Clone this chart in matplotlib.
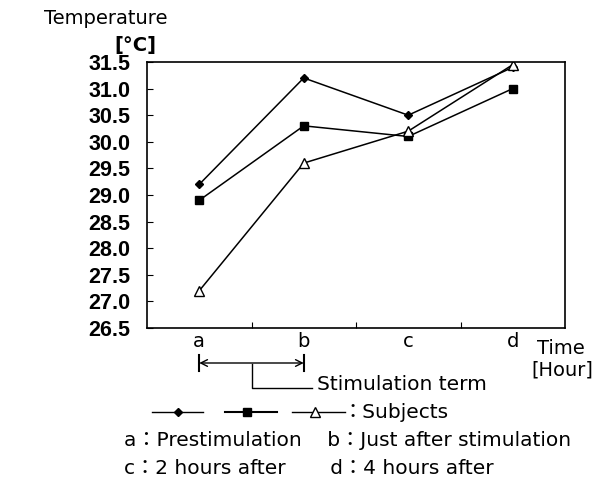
import matplotlib
matplotlib.use("Agg")
import matplotlib.pyplot as plt
from matplotlib.lines import Line2D

plt.rcParams['font.family'] = ['DejaVu Sans', 'Noto Sans CJK JP']
FAM = ['DejaVu Sans', 'Noto Sans CJK JP']

categories = ['a', 'b', 'c', 'd']
subject1 = [29.2, 31.2, 30.5, 31.4]
subject2 = [28.9, 30.3, 30.1, 31.0]
subject3 = [27.2, 29.6, 30.2, 31.45]
yticks = [26.5, 27.0, 27.5, 28.0, 28.5, 29.0, 29.5, 30.0, 30.5, 31.0, 31.5]

fig = plt.figure(figsize=(6.0, 4.87), dpi=100)
ax = fig.add_axes([147/600, 1-328/487, (565-147)/600, (328-62)/487])

x = list(range(len(categories)))
ax.plot(x, subject1, color='black', lw=1.1, marker='D', ms=4.5, mfc='black', mec='black')
ax.plot(x, subject2, color='black', lw=1.1, marker='s', ms=5.5, mfc='black', mec='black')
ax.plot(x, subject3, color='black', lw=1.1, marker='^', ms=6.5, mfc='white', mec='black', mew=1.0)

ax.set_xlim(-0.5, 3.5)
ax.set_ylim(26.5, 31.5)
ax.set_yticks(yticks)
ax.set_yticklabels([f"{v:.1f}" for v in yticks], fontsize=15.5, fontweight='bold',
                   family='Liberation Sans')
ax.set_xticks([0.5, 1.5, 2.5])
ax.set_xticklabels([])
ax.set_xticks(x, minor=True)
ax.set_xticklabels(categories, minor=True, fontsize=14)
ax.tick_params(axis='x', which='minor', length=0, pad=3)
ax.tick_params(axis='x', which='major', direction='in', length=4)
ax.tick_params(axis='y', direction='in', length=4, pad=12)
for s in ax.spines.values():
    s.set_linewidth(1.2)

# axis titles
fig.text(106/600, 1-18/487, 'Temperature', fontsize=14, ha='center', va='center')
fig.text(135/600, 1-45/487, '[°C]', fontsize=14, ha='center', va='center', fontweight='bold')
fig.text(537/600, 1-348/487, 'Time', fontsize=14, ha='left', va='center')
fig.text(531/600, 1-370/487, '[Hour]', fontsize=14, ha='left', va='center')

# stimulation term arrow
y_arr = 26.5 - 35/53.2
ax.annotate('', xy=(1, y_arr), xytext=(0, y_arr),
            xycoords='data', textcoords='data',
            arrowprops=dict(arrowstyle='<->', color='black', lw=1.0, mutation_scale=12,
                            shrinkA=0, shrinkB=0),
            annotation_clip=False)
for xv in (0, 1):
    ax.plot([xv, xv], [y_arr - 0.15, y_arr + 0.15], color='black', lw=1.5, clip_on=False)
fig.add_artist(Line2D([252/600, 252/600, 312/600], [1-364/487, 1-388/487, 1-388/487],
                      color='black', lw=1.0))
fig.text(317/600, 1-384/487, 'Stimulation term', fontsize=14.5, ha='left', va='center')

# legend
y_leg = 1-412/487
fig.add_artist(Line2D([152/600, 203/600], [y_leg, y_leg], color='black', lw=1.0))
fig.add_artist(Line2D([178/600], [y_leg], color='black', marker='D', ms=4.5, lw=0))
fig.add_artist(Line2D([225/600, 277/600], [y_leg, y_leg], color='black', lw=1.5))
fig.add_artist(Line2D([247/600], [y_leg], color='black', marker='s', ms=5.5, lw=0))
fig.add_artist(Line2D([292/600, 345/600], [y_leg, y_leg], color='black', lw=1.0))
fig.add_artist(Line2D([315/600], [y_leg], color='black', marker='^', ms=6.5, mfc='white', mec='black', lw=0))
fig.text(342/600, y_leg, '：Subjects', fontsize=14.5, ha='left', va='center', family=FAM)

fig.text(124/600, 1-440/487, 'a：Prestimulation    b：Just after stimulation', fontsize=14.5,
         ha='left', va='center', family=FAM)
fig.text(124/600, 1-468/487, 'c：2 hours after       d：4 hours after', fontsize=14.5,
         ha='left', va='center', family=FAM)

fig.savefig('out.png', dpi=100)
